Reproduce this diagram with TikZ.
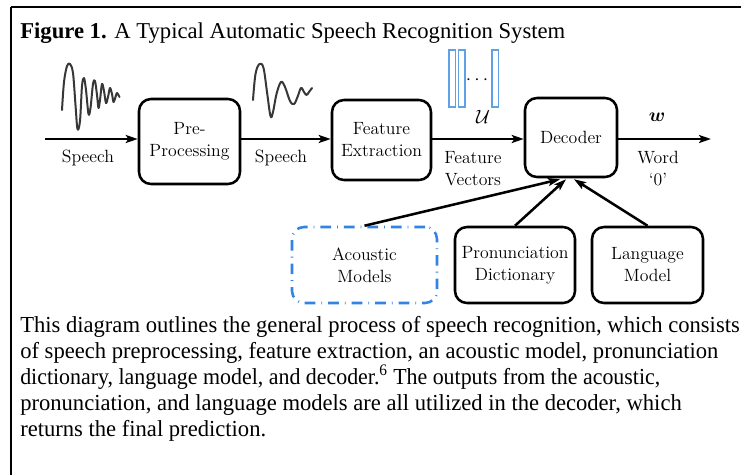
\documentclass[tikz,border=0pt]{standalone}
\usepackage{fontspec}
\usepackage{bm}
\usetikzlibrary{arrows.meta,calc}
\newfontfamily\timesfont{Liberation Serif}
\definecolor{vecblue}{RGB}{95,160,230}
\definecolor{acblue}{RGB}{50,132,228}
\definecolor{wavegray}{RGB}{55,55,55}
\newcommand{\bodytext}[2][0.985]{\scalebox{#1}[1]{#2}}
\begin{document}
\begin{tikzpicture}[x=0.75pt,y=-0.75pt,
  blk/.style={draw=black,line width=1.9pt,rounded corners=9pt,align=center,
    font=\fontsize{13.3}{16.5}\selectfont,inner sep=0pt},
  lbl/.style={font=\fontsize{13.3}{16.5}\selectfont,inner sep=0pt},
  flow/.style={line width=1.9pt,-{Stealth[length=9pt,width=6pt,inset=2pt]}},
  wave/.style={draw=wavegray,line width=1.5pt,line cap=round,line join=round},
  vecbar/.style={draw=vecblue,line width=1.1pt},
  bodyline/.style={anchor=base west,inner sep=0pt,font=\timesfont\fontsize{17.2}{19.5}\selectfont},
  frame/.style={line width=1.6pt}]
\useasboundingbox (0,0) rectangle (741,475);

% outer frame: top rule and left rule
\draw[frame] (11,7) -- (741,7);
\draw[frame] (11,7) -- (11,475);

% caption
\node[anchor=base west,inner sep=0pt,font=\timesfont\fontsize{17}{19}\selectfont] (title) at (20,38)
  {\textbf{Figure 1.} A Typical Automatic Speech Recognition System};

% processing blocks
\node[blk,minimum width=75.75pt,minimum height=63.75pt] (pre) at (189.5,141.5) {Pre-\\Processing};
\node[blk,minimum width=74.25pt,minimum height=60pt] (feat) at (381.5,140) {Feature\\Extraction};
\node[blk,minimum width=69pt,minimum height=59.25pt] (dec) at (571,137.5) {Decoder};

% knowledge sources
\node[blk,draw=acblue,line width=1.9pt,
  dash pattern=on 8pt off 4.5pt on 0.6pt off 4.5pt,
  minimum width=108.75pt,minimum height=57pt] (ac) at (364.5,265) {Acoustic\\Models};
\node[blk,minimum width=90pt,minimum height=57pt] (pron) at (515,265) {Pronunciation\\Dictionary};
\node[blk,minimum width=83.25pt,minimum height=57pt] (lang) at (647.5,265) {Language\\Model};

% main signal path
\coordinate (in) at (45,139);
\coordinate (out) at (711,139);
\draw[flow] (in) -- (in -| pre.west);
\draw[flow] (pre.east |- in) -- (in -| feat.west);
\draw[flow] (feat.east |- in) -- (in -| dec.west);
\draw[flow] (dec.east |- in) -- (out);

% knowledge sources feed the decoder
\draw[flow] (ac.north) -- ($(dec.south)+(-11,1)$);
\draw[flow] (pron.north) -- ($(dec.south)+(-5,1)$);
\draw[flow] (lang.north) -- ($(dec.south)+(3,1)$);

% path labels
\node[lbl] (sp1) at (88,158) {Speech};
\node[lbl] (sp2) at (281,158) {Speech};
\node[lbl,align=center] (fv) at (473,169) {Feature\\Vectors};
\node[lbl,align=center] (wd) at (658,169) {Word\\`0'};
\node[lbl] (uu) at (483,117) {$\mathcal{U}$};
\node[lbl] (ww) at (657,117) {$\bm{w}$};

% feature vectors
\draw[vecbar] (449,50) rectangle (455.5,107);
\draw[vecbar] (458.5,50) rectangle (465,107);
\draw[vecbar] (492,50) rectangle (498.5,107);
\node[lbl] (dots) at (477,80) {$\cdots$};

% raw speech waveform
\draw[wave] plot[smooth,tension=0.55] coordinates {
  (62,110) (64,82) (67,66) (70,64) (73,73) (75.5,105) (77.5,129) (80,121) (82,86)
  (84,78) (86,90) (88.5,114) (90.5,108) (93,84) (95,81) (97,95) (98.5,108)
  (100,100) (102,84) (104,91) (106,103) (108,97) (110,88) (112,94)
  (113.5,102) (115.5,97) (117,93) (119.5,97)};

% pre-processed waveform
\draw[wave] plot[smooth,tension=0.6] coordinates {
  (253,100) (255.5,74) (259.5,64) (263.5,68) (267,92) (270.5,116) (273,112)
  (276.5,94) (281,82) (285,87) (290,101) (294,104) (297.5,97) (301,88)
  (304,92) (306.5,95) (309,92) (312,88)};

% explanatory paragraph
\node[bodyline] (b1) at (20,332) {\bodytext{This diagram outlines the general process of speech recognition, which consists}};
\node[bodyline] (b2) at (20,358) {\bodytext{of speech preprocessing, feature extraction, an acoustic model, pronunciation}};
\node[bodyline] (b3) at (20,384) {\bodytext[0.955]{dictionary, language model, and decoder.\textsuperscript{6} The outputs from the acoustic,}};
\node[bodyline] (b4) at (20,410) {\bodytext{pronunciation, and language models are all utilized in the decoder, which}};
\node[bodyline] (b5) at (20,436) {\bodytext{returns the final prediction.}};
\end{tikzpicture}
\end{document}
